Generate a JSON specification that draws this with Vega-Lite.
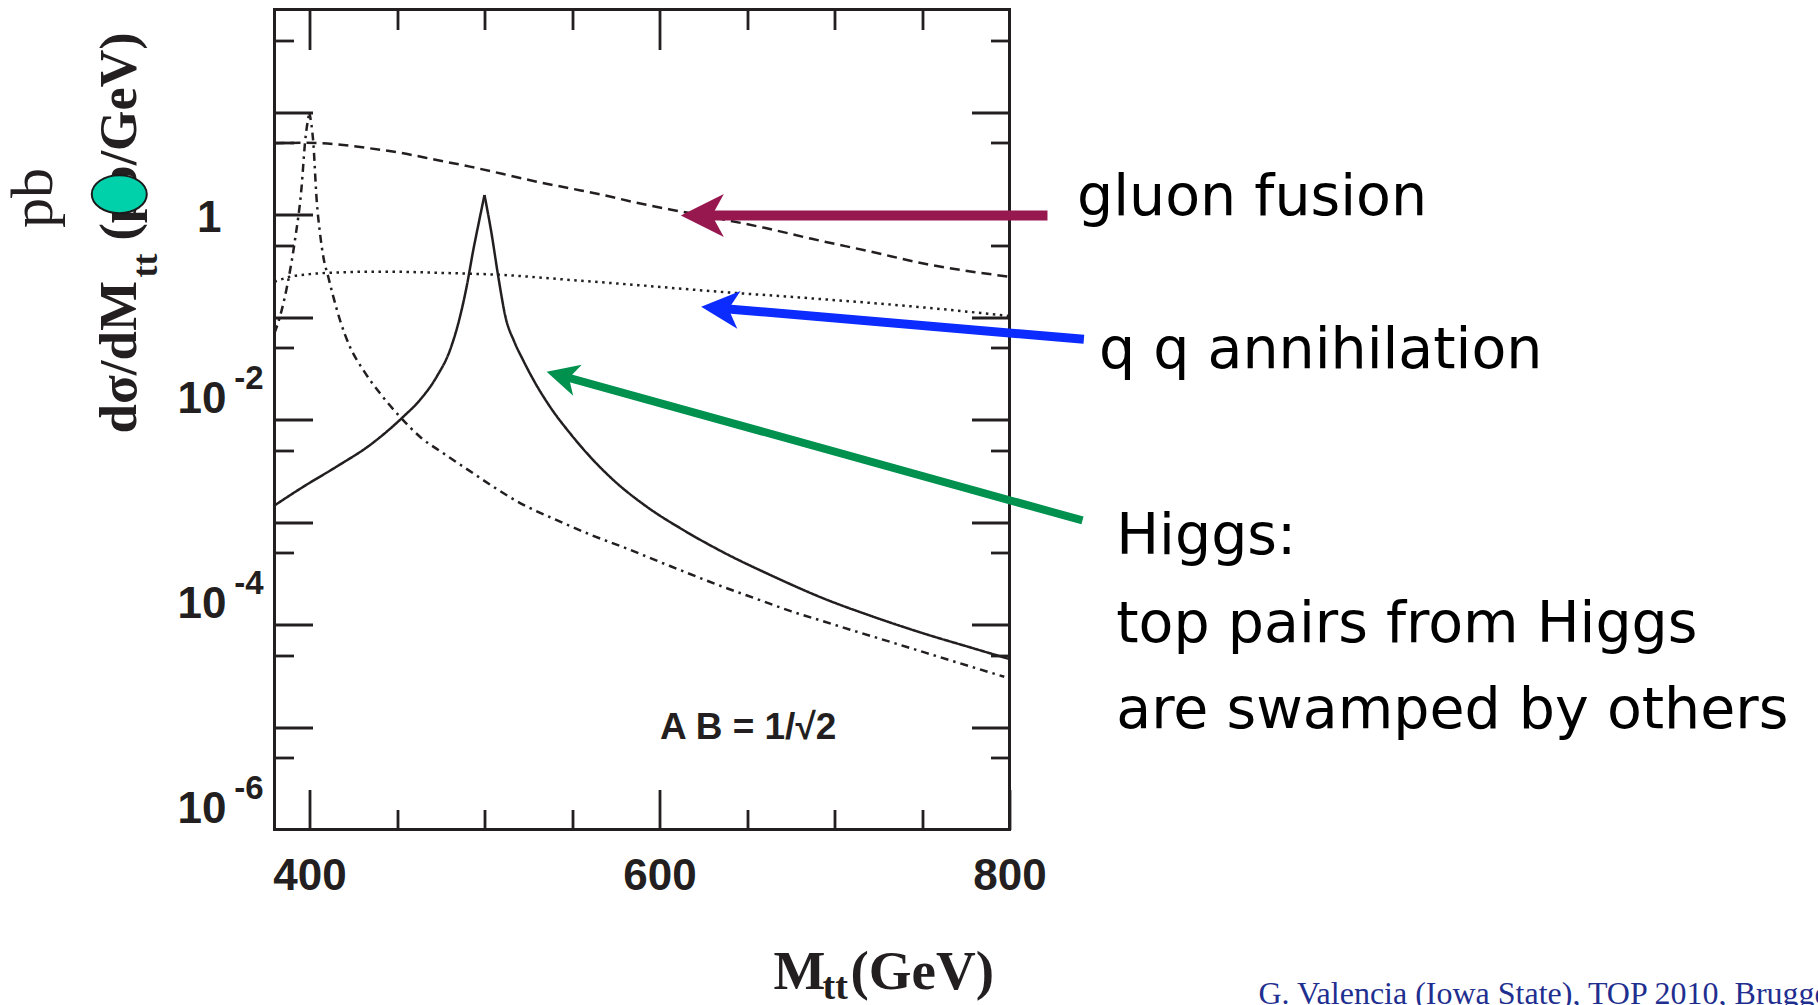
{
  "$schema": "https://vega.github.io/schema/vega-lite/v6.json",
  "autosize": {"type": "none"},
  "width": 735,
  "height": 820,
  "padding": {"left": 274.5, "top": 9.5, "right": 808.5, "bottom": 175.5},
  "background": "white",
  "config": {
    "view": {"stroke": "#231f20", "strokeWidth": 3},
    "axis": {
      "domain": false, "grid": false, "tickColor": "#231f20", "tickWidth": 2.8,
      "labelColor": "#231f20", "labelFont": "Liberation Sans", "labelFontWeight": "bold",
      "titleColor": "#231f20", "titleFont": "Liberation Serif", "titleFontWeight": "bold",
      "labelOverlap": false, "labelFlush": false, "zindex": 1
    }
  },
  "resolve": {
    "scale": {"x": "shared", "y": "shared"},
    "axis": {"x": "independent", "y": "independent"}
  },
  "layer": [
    {
      "data": {"values": [
        {"s": "gg", "seg": "gg", "m": 380, "v": 4.95}, {"s": "gg", "seg": "gg", "m": 396.5, "v": 5.01}, {"s": "gg", "seg": "gg", "m": 415.5, "v": 4.84},
        {"s": "gg", "seg": "gg", "m": 434.6, "v": 4.42}, {"s": "gg", "seg": "gg", "m": 453.6, "v": 3.95}, {"s": "gg", "seg": "gg", "m": 472.7, "v": 3.4},
        {"s": "gg", "seg": "gg", "m": 491.7, "v": 2.93}, {"s": "gg", "seg": "gg", "m": 510.7, "v": 2.48}, {"s": "gg", "seg": "gg", "m": 529.8, "v": 2.09},
        {"s": "gg", "seg": "gg", "m": 548.9, "v": 1.8}, {"s": "gg", "seg": "gg", "m": 567.9, "v": 1.55}, {"s": "gg", "seg": "gg", "m": 587, "v": 1.3},
        {"s": "gg", "seg": "gg", "m": 606, "v": 1.12}, {"s": "gg", "seg": "gg", "m": 634, "v": 0.912}, {"s": "gg", "seg": "gg", "m": 660, "v": 0.741},
        {"s": "gg", "seg": "gg", "m": 687, "v": 0.579}, {"s": "gg", "seg": "gg", "m": 720, "v": 0.437}, {"s": "gg", "seg": "gg", "m": 753, "v": 0.327},
        {"s": "gg", "seg": "gg", "m": 800, "v": 0.247},
        {"s": "qq", "seg": "qq", "m": 380, "v": 0.221}, {"s": "qq", "seg": "qq", "m": 388.9, "v": 0.247}, {"s": "qq", "seg": "qq", "m": 400, "v": 0.262},
        {"s": "qq", "seg": "qq", "m": 406, "v": 0.267}, {"s": "qq", "seg": "qq", "m": 420, "v": 0.273}, {"s": "qq", "seg": "qq", "m": 434.6, "v": 0.277},
        {"s": "qq", "seg": "qq", "m": 452, "v": 0.276}, {"s": "qq", "seg": "qq", "m": 472.7, "v": 0.27}, {"s": "qq", "seg": "qq", "m": 510.7, "v": 0.257},
        {"s": "qq", "seg": "qq", "m": 548.9, "v": 0.23}, {"s": "qq", "seg": "qq", "m": 587, "v": 0.205}, {"s": "qq", "seg": "qq", "m": 633.6, "v": 0.1766},
        {"s": "qq", "seg": "qq", "m": 680, "v": 0.155}, {"s": "qq", "seg": "qq", "m": 726.6, "v": 0.1346}, {"s": "qq", "seg": "qq", "m": 760, "v": 0.12},
        {"s": "qq", "seg": "qq", "m": 800, "v": 0.102},
        {"s": "H500", "seg": "H500L", "m": 380, "v": 0.00145}, {"s": "H500", "seg": "H500L", "m": 396.5, "v": 0.00221},
        {"s": "H500", "seg": "H500L", "m": 415.5, "v": 0.00347}, {"s": "H500", "seg": "H500L", "m": 434.6, "v": 0.00564},
        {"s": "H500", "seg": "H500L", "m": 453.6, "v": 0.01065}, {"s": "H500", "seg": "H500L", "m": 463.1, "v": 0.0155},
        {"s": "H500", "seg": "H500L", "m": 472.7, "v": 0.0262}, {"s": "H500", "seg": "H500L", "m": 480.3, "v": 0.0476},
        {"s": "H500", "seg": "H500L", "m": 486, "v": 0.1007}, {"s": "H500", "seg": "H500L", "m": 489.8, "v": 0.198},
        {"s": "H500", "seg": "H500L", "m": 493.6, "v": 0.451}, {"s": "H500", "seg": "H500L", "m": 495.5, "v": 0.656},
        {"s": "H500", "seg": "H500L", "m": 500, "v": 1.55},
        {"s": "H500", "seg": "H500R", "m": 500, "v": 1.55}, {"s": "H500", "seg": "H500R", "m": 504, "v": 0.656},
        {"s": "H500", "seg": "H500R", "m": 508, "v": 0.24}, {"s": "H500", "seg": "H500R", "m": 512, "v": 0.1},
        {"s": "H500", "seg": "H500R", "m": 517, "v": 0.0575}, {"s": "H500", "seg": "H500R", "m": 522, "v": 0.0381},
        {"s": "H500", "seg": "H500R", "m": 528, "v": 0.0243}, {"s": "H500", "seg": "H500R", "m": 537.4, "v": 0.01334},
        {"s": "H500", "seg": "H500R", "m": 548.9, "v": 0.00733}, {"s": "H500", "seg": "H500R", "m": 560.3, "v": 0.00434},
        {"s": "H500", "seg": "H500R", "m": 573.6, "v": 0.00257}, {"s": "H500", "seg": "H500R", "m": 592.7, "v": 0.00141},
        {"s": "H500", "seg": "H500R", "m": 613.6, "v": 0.000835}, {"s": "H500", "seg": "H500R", "m": 636.5, "v": 0.000506},
        {"s": "H500", "seg": "H500R", "m": 665, "v": 0.000295}, {"s": "H500", "seg": "H500R", "m": 693.6, "v": 0.00018},
        {"s": "H500", "seg": "H500R", "m": 722.2, "v": 0.000119}, {"s": "H500", "seg": "H500R", "m": 750.7, "v": 0.000082},
        {"s": "H500", "seg": "H500R", "m": 779.3, "v": 0.0000586}, {"s": "H500", "seg": "H500R", "m": 800, "v": 0.000046},
        {"s": "H400", "seg": "H400L", "m": 380, "v": 0.0698}, {"s": "H400", "seg": "H400L", "m": 383.1, "v": 0.1007},
        {"s": "H400", "seg": "H400L", "m": 387.9, "v": 0.23}, {"s": "H400", "seg": "H400L", "m": 391.7, "v": 0.564},
        {"s": "H400", "seg": "H400L", "m": 395.5, "v": 1.87}, {"s": "H400", "seg": "H400L", "m": 397.4, "v": 4.95},
        {"s": "H400", "seg": "H400L", "m": 399.9, "v": 9.93},
        {"s": "H400", "seg": "H400R", "m": 399.9, "v": 9.93}, {"s": "H400", "seg": "H400R", "m": 402.2, "v": 4.95},
        {"s": "H400", "seg": "H400R", "m": 404.1, "v": 1.38}, {"s": "H400", "seg": "H400R", "m": 406, "v": 0.656},
        {"s": "H400", "seg": "H400R", "m": 407.9, "v": 0.387}, {"s": "H400", "seg": "H400R", "m": 410.7, "v": 0.247},
        {"s": "H400", "seg": "H400R", "m": 413.6, "v": 0.158}, {"s": "H400", "seg": "H400R", "m": 417.4, "v": 0.0935},
        {"s": "H400", "seg": "H400R", "m": 423.1, "v": 0.0513}, {"s": "H400", "seg": "H400R", "m": 430.7, "v": 0.0304},
        {"s": "H400", "seg": "H400R", "m": 440.3, "v": 0.018}, {"s": "H400", "seg": "H400R", "m": 451.7, "v": 0.01065},
        {"s": "H400", "seg": "H400R", "m": 463.1, "v": 0.00679}, {"s": "H400", "seg": "H400R", "m": 476.5, "v": 0.00468},
        {"s": "H400", "seg": "H400R", "m": 493.6, "v": 0.00298}, {"s": "H400", "seg": "H400R", "m": 505, "v": 0.00221},
        {"s": "H400", "seg": "H400R", "m": 522, "v": 0.00148}, {"s": "H400", "seg": "H400R", "m": 541, "v": 0.00105},
        {"s": "H400", "seg": "H400R", "m": 560, "v": 0.000759}, {"s": "H400", "seg": "H400R", "m": 580, "v": 0.000562},
        {"s": "H400", "seg": "H400R", "m": 606, "v": 0.000372}, {"s": "H400", "seg": "H400R", "m": 636, "v": 0.000234},
        {"s": "H400", "seg": "H400R", "m": 657, "v": 0.000174}, {"s": "H400", "seg": "H400R", "m": 675, "v": 0.000135},
        {"s": "H400", "seg": "H400R", "m": 694, "v": 0.000107}, {"s": "H400", "seg": "H400R", "m": 709, "v": 0.000089},
        {"s": "H400", "seg": "H400R", "m": 732, "v": 0.0000676}, {"s": "H400", "seg": "H400R", "m": 751, "v": 0.0000537},
        {"s": "H400", "seg": "H400R", "m": 770, "v": 0.0000427}, {"s": "H400", "seg": "H400R", "m": 797, "v": 0.0000309}
      ]},
      "mark": {"type": "line", "color": "#231f20", "strokeWidth": 2.5, "strokeCap": "butt", "interpolate": "monotone"},
      "encoding": {
        "x": {"field": "m", "type": "quantitative", "scale": {"domain": [380, 800], "nice": false, "zero": false},
          "axis": {"orient": "bottom", "values": [400, 600, 800], "tickSize": -40, "labels": false,
            "title": "M", "titleFontSize": 55, "titleX": 498.5, "titleY": 158.8, "titleAlign": "left", "titleBaseline": "alphabetic", "titleAngle": 0}},
        "y": {"field": "v", "type": "quantitative", "scale": {"type": "log", "domain": [0.000001, 100], "nice": false},
          "axis": {"orient": "left", "values": [0.00001, 0.0001, 0.001, 0.01, 0.1, 1, 10], "tickSize": -38, "labels": false,
            "title": "dσ/dM", "titleFontSize": 53, "titleAngle": -90, "titleX": -139.5, "titleY": 423.5, "titleAlign": "left", "titleBaseline": "alphabetic"}},
        "detail": {"field": "seg", "type": "nominal"},
        "strokeDash": {"field": "s", "type": "nominal", "legend": null,
          "scale": {"domain": ["gg", "qq", "H500", "H400"], "range": [[10, 6], [2.5, 4.5], [1, 0], [8, 5, 2.5, 5]]}}
      }
    },
    {
      "data": {"values": [
        {"a": "gg", "m": 821.7, "v": 0.9777, "m2": 626, "v2": 0.9777},
        {"a": "qq", "m": 842.5, "v": 0.06059, "m2": 634.1, "v2": 0.1219},
        {"a": "H", "m": 841.7, "v": 0.001035, "m2": 547.7, "v2": 0.02564}
      ]},
      "mark": {"type": "rule", "strokeCap": "butt"},
      "encoding": {
        "x": {"field": "m", "type": "quantitative", "scale": {"domain": [380, 800], "nice": false, "zero": false},
          "axis": {"orient": "bottom", "values": [450, 500, 550, 650, 700, 750], "tickSize": -20, "labels": false,
            "title": "tt", "titleFontSize": 38, "titleX": 547.5, "titleY": 169, "titleAlign": "left", "titleBaseline": "alphabetic", "titleAngle": 0}},
        "y": {"field": "v", "type": "quantitative", "scale": {"type": "log", "domain": [0.000001, 100], "nice": false},
          "axis": {"orient": "left", "values": [0.000005, 0.00005, 0.0005, 0.005, 0.05, 0.5, 5, 50], "tickSize": -19, "labels": false,
            "title": "tt", "titleFontSize": 36, "titleAngle": -90, "titleX": -117.8, "titleY": 267.5, "titleAlign": "left", "titleBaseline": "alphabetic"}},
        "x2": {"field": "m2"},
        "y2": {"field": "v2"},
        "color": {"field": "a", "type": "nominal", "legend": null,
          "scale": {"domain": ["gg", "qq", "H"], "range": ["#97174f", "#0b2bff", "#00914f"]}},
        "strokeWidth": {"field": "a", "type": "nominal", "legend": null,
          "scale": {"domain": ["gg", "qq", "H"], "range": [10, 8, 12]}}
      }
    },
    {
      "data": {"values": [
        {"a": "gg", "m": 612.2, "v": 0.9777, "ang": 0},
        {"a": "qq", "m": 623.8, "v": 0.126, "ang": 4.9},
        {"a": "H", "m": 535.5, "v": 0.02925, "ang": 15.5}
      ]},
      "mark": {"type": "point", "shape": "M0,0L2,-1L1.45,0L2,1Z", "filled": true, "opacity": 1, "strokeWidth": 0},
      "encoding": {
        "x": {"field": "m", "type": "quantitative", "scale": {"domain": [380, 800], "nice": false, "zero": false},
          "axis": {"orient": "top", "values": [400, 600], "tickSize": -40, "labels": false,
            "title": "(GeV)", "titleFontSize": 55, "titleX": 575.5, "titleY": 978.8, "titleAlign": "left", "titleBaseline": "alphabetic", "titleAngle": 0}},
        "y": {"field": "v", "type": "quantitative", "scale": {"type": "log", "domain": [0.000001, 100], "nice": false},
          "axis": {"orient": "right", "values": [0.00001, 0.0001, 0.001, 0.01, 0.1, 1, 10], "tickSize": -38, "labels": false,
            "title": "pb", "titleFontSize": 60, "titleFontWeight": "normal", "titleAngle": -90, "titleX": -958.5, "titleY": 188, "titleAlign": "center", "titleBaseline": "alphabetic"}},
        "color": {"field": "a", "type": "nominal", "legend": null,
          "scale": {"domain": ["gg", "qq", "H"], "range": ["#97174f", "#0b2bff", "#00914f"]}},
        "size": {"field": "a", "type": "nominal", "legend": null,
          "scale": {"domain": ["gg", "qq", "H"], "range": [1849, 1024, 1936]}},
        "angle": {"field": "ang", "type": "quantitative", "scale": null}
      }
    },
    {
      "data": {"values": [
        {"t": "gluon fusion", "m": 838.6, "v": 0.9888},
        {"t": "q q annihilation", "m": 851.1, "v": 0.03179}
      ]},
      "mark": {"type": "text", "font": "DejaVu Sans", "fontSize": 57, "align": "left", "baseline": "alphabetic", "color": "#000000"},
      "encoding": {
        "x": {"field": "m", "type": "quantitative", "scale": {"domain": [380, 800], "nice": false, "zero": false},
          "axis": {"orient": "top", "values": [450, 500, 550, 650, 700, 750], "tickSize": -20, "labels": false, "title": null}},
        "y": {"field": "v", "type": "quantitative", "scale": {"type": "log", "domain": [0.000001, 100], "nice": false},
          "axis": {"orient": "right", "values": [0.000005, 0.00005, 0.0005, 0.005, 0.05, 0.5, 5, 50], "tickSize": -19, "labels": false, "zindex": 0,
            "title": "(pb/GeV)", "titleFontSize": 52, "titleAngle": -90, "titleX": -874.5, "titleY": 230.5, "titleAlign": "left", "titleBaseline": "alphabetic"}},
        "text": {"field": "t"}
      }
    },
    {
      "data": {"values": [{"m": 291.3, "v": 1.578}]},
      "mark": {"type": "point", "shape": "M-1,0C-1,-0.381,-0.552,-0.69,0,-0.69C0.552,-0.69,1,-0.381,1,0C1,0.381,0.552,0.69,0,0.69C-0.552,0.69,-1,0.381,-1,0Z",
        "filled": true, "fill": "#00d1aa", "stroke": "#1a1a1a", "strokeWidth": 2, "opacity": 1, "size": 3025},
      "encoding": {
        "x": {"field": "m", "type": "quantitative", "scale": {"domain": [380, 800], "nice": false, "zero": false}, "axis": null},
        "y": {"field": "v", "type": "quantitative", "scale": {"type": "log", "domain": [0.000001, 100], "nice": false},
          "axis": {"orient": "left", "values": [0.000001, 0.0001, 0.01], "ticks": false, "tickSize": 0, "labelExpr": "'10'",
            "labelFontSize": 44, "labelPadding": 48.5, "labelOffset": -7, "labelBaseline": "alphabetic", "title": null}}
      }
    },
    {
      "data": {"values": [{"t": "A B = 1/√2", "m": 600.3, "v": 0.00000759}]},
      "mark": {"type": "text", "font": "Liberation Sans", "fontWeight": "bold", "fontSize": 37, "align": "left", "baseline": "alphabetic", "color": "#231f20"},
      "encoding": {
        "x": {"field": "m", "type": "quantitative", "scale": {"domain": [380, 800], "nice": false, "zero": false},
          "axis": {"orient": "bottom", "values": [400, 600, 800], "ticks": false, "tickSize": 0, "labelFontSize": 44,
            "labelPadding": 60, "labelBaseline": "alphabetic", "title": null}},
        "y": {"field": "v", "type": "quantitative", "scale": {"type": "log", "domain": [0.000001, 100], "nice": false},
          "axis": {"orient": "left", "values": [0.000001, 0.0001, 0.01], "ticks": false, "tickSize": 0,
            "labelExpr": "'-' + round(-log(datum.value) / LN10)",
            "labelFontSize": 33, "labelPadding": 11.5, "labelOffset": -31.5, "labelBaseline": "alphabetic", "title": null}},
        "text": {"field": "t"}
      }
    },
    {
      "data": {"values": [
        {"t": "Higgs:", "m": 861, "v": 0.000491},
        {"t": "top pairs from Higgs", "m": 861, "v": 0.0000678},
        {"t": "are swamped by others", "m": 861, "v": 0.00000978}
      ]},
      "mark": {"type": "text", "font": "DejaVu Sans", "fontSize": 57, "align": "left", "baseline": "alphabetic", "color": "#000000"},
      "encoding": {
        "x": {"field": "m", "type": "quantitative", "scale": {"domain": [380, 800], "nice": false, "zero": false}, "axis": null},
        "y": {"field": "v", "type": "quantitative", "scale": {"type": "log", "domain": [0.000001, 100], "nice": false},
          "axis": {"orient": "left", "values": [1], "ticks": false, "tickSize": 0, "labelExpr": "'1'",
            "labelFontSize": 44, "labelPadding": 53.5, "labelOffset": 16.7, "labelBaseline": "alphabetic",
            "title": "G. Valencia (Iowa State), TOP 2010, Brugge", "titleAngle": 0, "titleX": 983.5, "titleY": 993.5,
            "titleAlign": "left", "titleBaseline": "alphabetic", "titleFontWeight": "normal", "titleFontSize": 32, "titleColor": "#1f2f8f"}},
        "text": {"field": "t"}
      }
    }
  ]
}
